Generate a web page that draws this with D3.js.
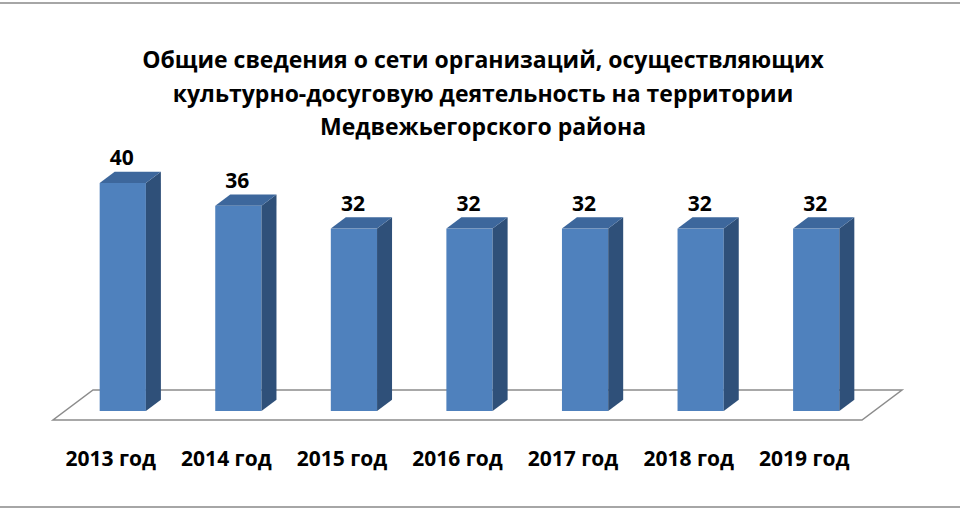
<!DOCTYPE html>
<html>
<head>
<meta charset="utf-8">
<script src="https://cdn.jsdelivr.net/npm/d3@7"></script>
<style>
  html, body { margin: 0; padding: 0; background: #fff; }
  svg { display: block; }
  text { font-family: "Open Sans", "DejaVu Sans", sans-serif; font-weight: bold; fill: #000; }
</style>
</head>
<body>
<div id="chart"></div>
<script>
const years = ["2013 год", "2014 год", "2015 год", "2016 год", "2017 год", "2018 год", "2019 год"];
const counts = [40, 36, 32, 32, 32, 32, 32];
const titleLines = [
  "Общие сведения о сети организаций, осуществляющих",
  "культурно-досуговую деятельность на территории",
  "Медвежьегорского района"
];

const width = 960;
const height = 510;
const floorY = 420;
const depth = { dx: 40, dy: -30 };
const barFront = 0.3, barBack = 0.675;

const svg = d3.select("#chart")
  .append("svg")
  .attr("width", width)
  .attr("height", height);

// frame lines top / bottom
svg.append("line").attr("x1", 0).attr("x2", width).attr("y1", 3).attr("y2", 3)
  .attr("stroke", "#a6a6a6").attr("stroke-width", 2);
svg.append("line").attr("x1", 0).attr("x2", width).attr("y1", 507).attr("y2", 507)
  .attr("stroke", "#a6a6a6").attr("stroke-width", 2);

// title
svg.append("text")
  .attr("x", width / 2)
  .attr("y", 68)
  .attr("text-anchor", "middle")
  .style("font-size", "23px")
  .selectAll("tspan")
  .data(titleLines)
  .enter()
  .append("tspan")
  .attr("x", width / 2 + 3)
  .attr("dy", (d, i) => (i === 0 ? 0 : 33.5))
  .text((d) => d);

const x = d3.scaleBand().domain(years).range([53, 862]);
const baseY = floorY + depth.dy * barFront;
const y = d3.scaleLinear().domain([0, 40]).range([baseY, 183]);

// floor
const [x0, x1] = x.range();
svg.append("path")
  .attr("d", `M${x0},${floorY}L${x1},${floorY}L${x1 + depth.dx},${floorY + depth.dy}L${x0 + depth.dx},${floorY + depth.dy}Z`)
  .attr("fill", "#fff")
  .attr("stroke", "#8c8c8c")
  .attr("stroke-width", 1.5);

const barW = x.bandwidth() * 0.4;
const fx = depth.dx * barFront, ox = depth.dx * (barBack - barFront), oy = depth.dy * (barBack - barFront);
const data = years.map((yr, i) => ({ year: yr, value: counts[i] }));

const bars = svg.selectAll(".bar")
  .data(data)
  .enter()
  .append("g")
  .attr("class", "bar");

const left = (d) => x(d.year) + x.bandwidth() / 2 - barW / 2 + fx;

// front
bars.append("rect")
  .attr("x", left)
  .attr("y", (d) => y(d.value))
  .attr("width", barW)
  .attr("height", (d) => baseY - y(d.value))
  .attr("fill", "#4f81bd");

// side
bars.append("path")
  .attr("d", (d) => {
    const r = left(d) + barW, t = y(d.value);
    return `M${r},${t}L${r + ox},${t + oy}L${r + ox},${baseY + oy}L${r},${baseY}Z`;
  })
  .attr("fill", "#2f5079");

// top
bars.append("path")
  .attr("d", (d) => {
    const l = left(d), t = y(d.value);
    return `M${l},${t}L${l + ox},${t + oy}L${l + barW + ox},${t + oy}L${l + barW},${t}Z`;
  })
  .attr("fill", "#3d679c");

// value labels
bars.append("text")
  .attr("x", (d) => left(d) + barW / 2 - 1)
  .attr("y", (d) => y(d.value) - 18)
  .attr("text-anchor", "middle")
  .style("font-size", "21px")
  .text((d) => d.value);

// category labels
svg.append("g")
  .selectAll("text")
  .data(years)
  .enter()
  .append("text")
  .attr("x", (d) => x(d) + x.bandwidth() / 2)
  .attr("y", 466)
  .attr("text-anchor", "middle")
  .style("font-size", "21px")
  .text((d) => d);
</script>
</body>
</html>
